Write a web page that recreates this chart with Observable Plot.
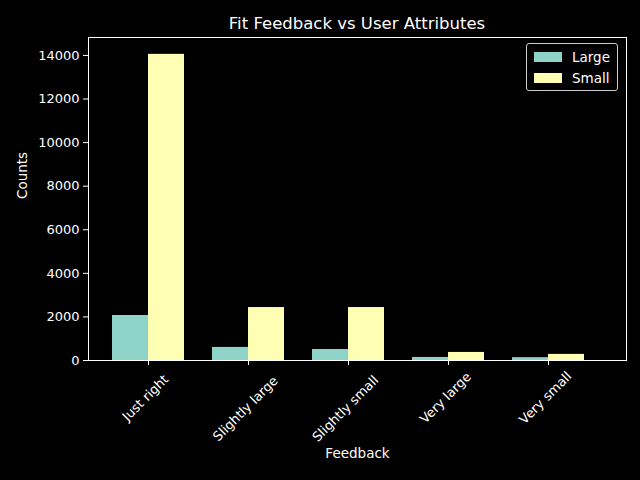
<!DOCTYPE html>
<html><head><meta charset="utf-8">
<script src="https://cdn.jsdelivr.net/npm/d3@7"></script>
<script src="https://cdn.jsdelivr.net/npm/@observablehq/plot@0.6"></script>
<style>
body{margin:0;background:#000;font-family:"DejaVu Sans",sans-serif;}
#wrap{position:relative;width:640px;height:480px;}
#title{position:absolute;top:14px;left:88px;width:538px;text-align:center;color:#fff;font-size:16.5px;}
#legend{position:absolute;top:43px;right:22px;border:1px solid #ccc;border-radius:3px;padding:2px 7px;color:#fff;font-size:13.5px;background:#000;}
#legend div{display:flex;align-items:center;height:21px;}
#legend span{display:inline-block;width:28px;height:10px;margin-right:10px;}
</style></head><body>
<div id="wrap"><div id="title">Fit Feedback vs User Attributes</div><div id="chart"></div>
<div id="legend"></div></div>
<script>
const categories = ["Just right","Slightly large","Slightly small","Very large","Very small"];
const largeValues = [2065, 600, 505, 140, 130];
const smallValues = [14050, 2430, 2430, 370, 280];
const series = ["Large","Small"];
const colors = ["#8dd3c7","#ffffb3"];
const yTicks = [0,2000,4000,6000,8000,10000,12000,14000];

const large = categories.map((c,i)=>({c, v: largeValues[i]}));
const small = categories.map((c,i)=>({c, v: smallValues[i]}));
const bw = 72;
const chart = Plot.plot({
  width:640, height:480,
  marginLeft:88, marginRight:14, marginTop:37, marginBottom:120,
  style:{background:"#000", color:"#fff", fontSize:"13px", fontFamily:"DejaVu Sans"},
  x:{domain:categories, range:[111,585], padding:0.284, paddingOuter:0, label:null, tickSize:5, tickFormat:()=>""},
  y:{domain:[0,14823], ticks:yTicks, label:null, tickSize:5, tickFormat:d=>String(d)},
  marks:[
    Plot.barY(large,{x:"c", y:"v", fill:colors[0], insetLeft:0, insetRight:bw/2}),
    Plot.barY(small,{x:"c", y:"v", fill:colors[1], insetLeft:bw/2, insetRight:0}),
    Plot.frame({stroke:"#fff"}),
    ...categories.map(c => Plot.text([c],{x:d=>d, frameAnchor:"bottom", rotate:-45, textAnchor:"middle",
      dy: 9 + (c.length*7.6 + 13)*0.707/2, fill:"#fff", fontSize:13})),
    Plot.text(["Feedback"],{frameAnchor:"bottom", dy:97, fill:"#fff", fontSize:13.5}),
    Plot.text(["Counts"],{frameAnchor:"left", dx:-66, rotate:-90, fill:"#fff", fontSize:13.5})
  ]
});
document.getElementById("chart").appendChild(chart);
document.getElementById("legend").innerHTML = series.map((s,i)=>`<div><span style="background:${colors[i]}"></span>${s}</div>`).join("");
</script></body></html>
